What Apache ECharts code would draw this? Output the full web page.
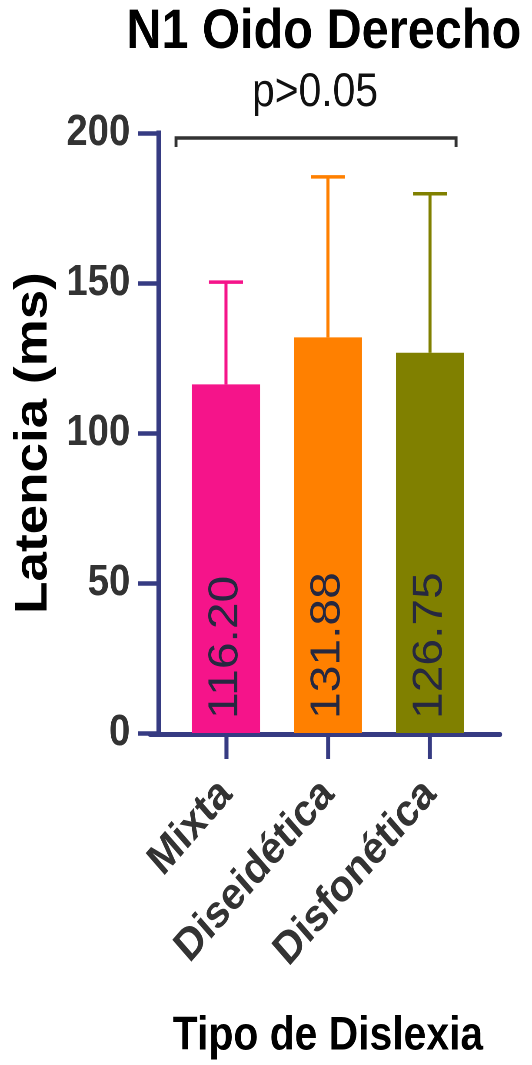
<!DOCTYPE html>
<html>
<head>
<meta charset="utf-8">
<title>N1 Oido Derecho</title>
<script src="https://cdn.jsdelivr.net/npm/echarts@6/dist/echarts.min.js"></script>
<style>
  html, body { margin: 0; padding: 0; background: #fff; overflow: hidden; }
  /* The chart is laid out on a wider canvas and squeezed horizontally,
     which gives the narrow lettering of the figure. */
  #chart {
    width: 612px; height: 1065px;
    transform: scaleX(0.86928); transform-origin: 0 0;
  }
</style>
</head>
<body>
<div id="chart"></div>
<script>
// Data
const categories = ['Mixta', 'Diseidética', 'Disfonética'];
const means = [116.20, 131.88, 126.75];
const sds = [34.1, 53.5, 53.0];
const barColors = ['#F5148A', '#FF8000', '#808000'];
const yTicks = [0, 50, 100, 150, 200];
const titleText = 'N1 Oido Derecho';
const pText = 'p>0.05';

const FONT = '"Liberation Sans", Arial, Helvetica, sans-serif';
const AXIS = '#363B82';

const chart = echarts.init(document.getElementById('chart'), null, { devicePixelRatio: 2 });

chart.setOption({
  animation: false,
  backgroundColor: '#fff',
  grid: [
    { left: 201.3, right: 58.7, top: 133, bottom: 331 },
    { left: 172.6, right: 36.8, top: 133, bottom: 331 }
  ],
  xAxis: [
    {
      gridIndex: 0,
      type: 'category',
      data: categories,
      axisLine: { show: false },
      axisTick: { show: true, alignWithLabel: true, length: 26, lineStyle: { color: AXIS, width: 4.6 } },
      axisLabel: {
        interval: 0, rotate: 45, margin: 54, padding: [12, 0, 0, 0],
        fontSize: 45, fontWeight: 'bold', color: '#333', fontFamily: FONT
      },
      name: 'Tipo de Dislexia',
      nameLocation: 'middle',
      nameGap: 280,
      nameTextStyle: { fontSize: 47, fontWeight: 'bold', color: '#000', fontFamily: FONT }
    },
    {
      // long baseline under the bars
      gridIndex: 1,
      type: 'value', min: 0, max: 1,
      axisLine: { show: true, onZero: false, lineStyle: { color: AXIS, width: 5 } },
      axisTick: { show: false },
      axisLabel: { show: false },
      splitLine: { show: false }
    }
  ],
  yAxis: [
    {
      gridIndex: 0,
      type: 'value',
      min: yTicks[0], max: yTicks[yTicks.length - 1], interval: yTicks[1] - yTicks[0],
      offset: 19.5,
      axisLine: { show: true, lineStyle: { color: AXIS, width: 5, cap: 'square' } },
      axisTick: { show: true, length: 23, lineStyle: { color: AXIS, width: 4.5 } },
      axisLabel: { margin: 32, fontSize: 44, fontWeight: 'bold', color: '#333', fontFamily: FONT },
      splitLine: { show: false },
      name: 'Latencia (ms)',
      nameLocation: 'middle',
      nameRotate: 90,
      nameGap: 116,
      nameTextStyle: { fontSize: 53, fontWeight: 'bold', color: '#000', fontFamily: FONT, padding: [0, 20, 0, 0] }
    },
    { gridIndex: 1, type: 'value', min: 0, max: 1, show: false }
  ],
  series: [
    {
      type: 'custom',
      xAxisIndex: 0, yAxisIndex: 0,
      z: 1,
      data: categories.map((c, i) => [i, means[i], means[i] + sds[i]]),
      encode: { x: 0, y: 2 },
      renderItem: function (params, api) {
        const i = api.value(0);
        const base = api.coord([i, api.value(1)]);
        const top = api.coord([i, api.value(2)]);
        const half = api.size([1, 0])[0] * 0.333 / 2;
        const color = barColors[i];
        return {
          type: 'group',
          children: [
            { type: 'line', shape: { x1: base[0], y1: base[1], x2: top[0], y2: top[1] },
              style: { stroke: color, lineWidth: 3.5 } },
            { type: 'line', shape: { x1: top[0] - half, y1: top[1], x2: top[0] + half, y2: top[1] },
              style: { stroke: color, lineWidth: 3.5 } }
          ]
        };
      }
    },
    {
      type: 'bar',
      xAxisIndex: 0, yAxisIndex: 0,
      z: 2,
      barWidth: '66.7%',
      data: means.map((v, i) => ({ value: v, itemStyle: { color: barColors[i] } })),
      label: {
        show: true,
        position: 'insideBottom',
        rotate: 90,
        align: 'left',
        verticalAlign: 'middle',
        distance: 14,
        formatter: p => p.value.toFixed(2),
        fontSize: 48,
        color: '#262840',
        fontFamily: FONT
      }
    }
  ],
  graphic: [
    {
      type: 'text', x: 372.5, y: 32.5,
      style: { text: titleText, align: 'center', verticalAlign: 'middle',
               font: 'bold 56px ' + FONT, fill: '#000' }
    },
    {
      type: 'text', x: 362.4, y: 93,
      style: { text: pText, align: 'center', verticalAlign: 'middle',
               font: '47px ' + FONT, fill: '#111' }
    },
    {
      // comparison bracket across the three groups
      type: 'polyline',
      shape: { points: [[202.5, 147], [202.5, 138], [524.6, 138], [524.6, 147]] },
      style: { stroke: '#333', lineWidth: 3.4, fill: null }
    }
  ]
});
</script>
</body>
</html>
